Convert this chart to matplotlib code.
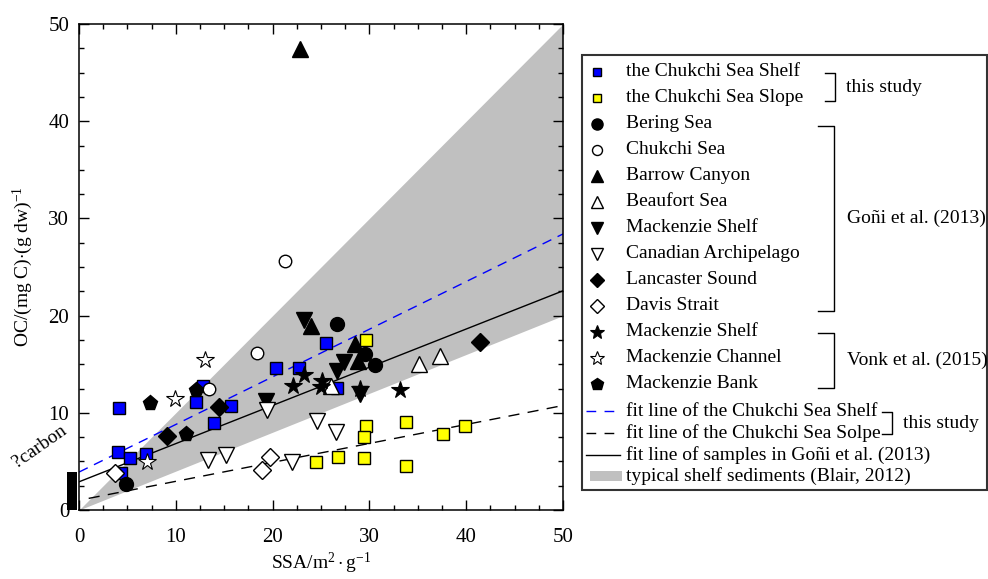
import matplotlib
matplotlib.use("Agg")
import matplotlib.pyplot as plt
import numpy as np
from matplotlib.patches import Rectangle

plt.rcParams["font.family"] = ["Liberation Serif", "DejaVu Serif"]
plt.rcParams["mathtext.fontset"] = "custom"
plt.rcParams["mathtext.rm"] = "Liberation Serif"
plt.rcParams["mathtext.it"] = "Liberation Serif:italic"

# ----------------------------
# Data (SSA m2/g, OC mg C/g)
# ----------------------------
shelf_x = [4.1, 4.0, 5.3, 6.9, 4.3, 12.1, 12.8, 13.9, 15.7, 20.4, 22.7, 25.5, 26.7]
shelf_y = [10.5, 6.0, 5.3, 5.8, 3.8, 11.1, 12.8, 8.9, 10.7, 14.6, 14.6, 17.2, 12.6]

slope_x = [24.5, 26.8, 29.4, 29.7, 29.4, 33.8, 33.8, 37.6, 39.9, 29.6]
slope_y = [4.9, 5.5, 5.3, 8.6, 7.5, 9.1, 4.5, 7.8, 8.6, 17.5]

bering_x = [4.9, 26.7, 29.5, 30.6]
bering_y = [2.7, 19.1, 16.1, 14.9]

chukchi_x = [13.4, 18.4, 21.3]
chukchi_y = [12.4, 16.2, 25.6]

barrow_x = [22.8, 24.0, 28.5, 28.8]
barrow_y = [47.4, 18.9, 17.1, 15.3]

beaufort_x = [26.0, 35.1, 37.3]
beaufort_y = [12.8, 15.0, 15.8]

mshelf_x = [19.3, 23.2, 27.4, 26.7, 29.0]
mshelf_y = [11.2, 19.5, 15.2, 14.3, 11.9]

canadian_x = [13.3, 15.2, 19.4, 22.0, 24.6, 26.6]
canadian_y = [5.1, 5.7, 10.3, 4.9, 9.2, 8.0]

lancaster_x = [9.1, 14.5, 41.4]
lancaster_y = [7.6, 10.6, 17.3]

davis_x = [3.7, 18.9, 19.7]
davis_y = [3.8, 4.1, 5.5]

vonk_shelf_x = [22.1, 23.2, 25.1, 25.0, 29.0, 33.2]
vonk_shelf_y = [12.8, 13.9, 13.3, 12.7, 12.5, 12.3]

channel_x = [7.0, 9.9, 13.0]
channel_y = [4.9, 11.4, 15.4]

bank_x = [7.3, 11.1, 12.1]
bank_y = [11.0, 7.8, 12.3]

# fit lines: (slope, intercept, x_start, x_end)
fit_shelf = (0.49, 3.9, 0.0, 50.0)
fit_slope = (0.195, 1.0, 1.0, 50.0)
fit_goni = (0.393, 2.9, 0.0, 50.0)

# typical shelf sediments: OC/SSA between 0.4 and 1.0
blair_low, blair_high = 0.4, 1.0
carbon_bar = 3.9

legend_labels = [
    "the Chukchi Sea Shelf", "the Chukchi Sea Slope", "Bering Sea", "Chukchi Sea",
    "Barrow Canyon", "Beaufort Sea", "Mackenzie Shelf", "Canadian Archipelago",
    "Lancaster Sound", "Davis Strait", "Mackenzie Shelf", "Mackenzie Channel",
    "Mackenzie Bank",
]
line_labels = [
    "fit line of the Chukchi Sea Shelf", "fit line of the Chukchi Sea Solpe",
    "fit line of samples in Goñi et al. (2013)", "typical shelf sediments (Blair, 2012)",
]

# ----------------------------
# Plot
# ----------------------------
fig = plt.figure(figsize=(9.88, 5.79), dpi=100)
ax = fig.add_axes([79 / 988, 69 / 579, 484 / 988, 486 / 579])

xx = np.array([0.0, 50.0])
ax.fill_between(xx, blair_low * xx, blair_high * xx, color="#c0c0c0", lw=0, zorder=1)

for (k, b, x0, x1), style in [
    (fit_shelf, dict(color="blue", ls=(0, (7, 5)), lw=1.0)),
    (fit_slope, dict(color="black", ls=(0, (8, 6)), lw=1.0)),
    (fit_goni, dict(color="black", ls="-", lw=1.0)),
]:
    lx = np.array([x0, x1])
    ax.plot(lx, k * lx + b, zorder=2, **style)

ec = "black"
series = [
    (shelf_x, shelf_y, "s", 8, "blue", 1.0),
    (slope_x, slope_y, "s", 8, "yellow", 1.0),
    (bering_x, bering_y, "o", 10, "black", 1.0),
    (chukchi_x, chukchi_y, "o", 9, "white", 1.0),
    (barrow_x, barrow_y, "^", 11, "black", 1.0),
    (beaufort_x, beaufort_y, "^", 11, "white", 1.0),
    (mshelf_x, mshelf_y, "v", 11, "black", 1.0),
    (canadian_x, canadian_y, "v", 11, "white", 1.0),
    (lancaster_x, lancaster_y, "D", 9, "black", 1.0),
    (davis_x, davis_y, "D", 9, "white", 1.0),
    (vonk_shelf_x, vonk_shelf_y, "*", 13, "black", 0.8),
    (channel_x, channel_y, "*", 13, "white", 0.8),
    (bank_x, bank_y, "p", 11, "black", 1.0),
]
for x, y, m, ms, fc, mew in series:
    ax.plot(x, y, ls="none", marker=m, ms=ms, mfc=fc, mec=ec, mew=mew, zorder=3)

ax.bar(-0.72, carbon_bar, width=1.0, bottom=0, color="black", clip_on=False, zorder=4)
ax.text(-0.9, 4.0, "?carbon", rotation=35, ha="right", va="bottom", fontsize=14,
        transform=ax.transData, clip_on=False)

ax.set_xlim(0, 50)
ax.set_ylim(0, 50)
ax.set_xticks(np.arange(0, 51, 10))
ax.set_yticks(np.arange(0, 51, 10))
ax.set_xticks(np.arange(0, 50.1, 2.5), minor=True)
ax.set_yticks(np.arange(0, 50.1, 2.5), minor=True)
ax.tick_params(which="both", direction="in", top=True, right=True, width=1.0,
               labelsize=15)
ax.tick_params(which="major", length=7)
ax.tick_params(which="minor", length=3.5)
ax.tick_params(axis="x", pad=13)
ax.tick_params(axis="y", pad=7)
for s in ax.spines.values():
    s.set_linewidth(1.1)

ax.set_xlabel(r"SSA/m$^{2}\cdot$g$^{-1}$", fontsize=14, labelpad=3)
ax.set_ylabel(r"OC/(mg C)$\cdot$(g dw)$^{-1}$", fontsize=14, labelpad=10)

# ----------------------------
# Legend (pixel coordinates overlay)
# ----------------------------
lax = fig.add_axes([0, 0, 1, 1])
lax.set_xlim(0, 988)
lax.set_ylim(579, 0)
lax.axis("off")
lax.add_patch(Rectangle((582, 55), 405, 435, fill=False, lw=1.5, ec="#333333"))

row_y = 72
for (x, y, m, ms, fc, mew), lab in zip(series, legend_labels):
    lax.plot([597], [row_y], ls="none", marker=m, ms=ms * 0.8, mfc=fc, mec=ec, mew=mew)
    lax.text(626, row_y, lab, fontsize=14, va="center", ha="left")
    row_y += 26

ly = [411, 433, 455, 476]
lax.plot([586, 618], [ly[0], ly[0]], color="blue", ls=(0, (7, 6)), lw=1.0)
lax.plot([586, 618], [ly[1], ly[1]], color="black", ls=(0, (7, 6)), lw=1.0)
lax.plot([586, 620], [ly[2], ly[2]], color="black", lw=1.0)
lax.add_patch(Rectangle((590, ly[3] - 5), 32, 10, color="#c0c0c0", lw=0))
for yy, lab in zip(ly, line_labels):
    lax.text(626, yy, lab, fontsize=14, va="center", ha="left")


def bracket(x_left, x_vert, y0, y1, text, tx):
    lax.plot([x_left, x_vert, x_vert, x_left], [y0, y0, y1, y1], color="black", lw=1.0)
    lax.text(tx, (y0 + y1) / 2, text, fontsize=14, va="center", ha="left")


bracket(825, 835, 73, 101, "this study", 846)
bracket(818, 834, 126, 311, "Goñi et al. (2013)", 847)
bracket(818, 834, 333, 388, "Vonk et al. (2015)", 847)
bracket(882, 892, 412, 434, "this study", 903)

fig.savefig("out.png", dpi=100)
